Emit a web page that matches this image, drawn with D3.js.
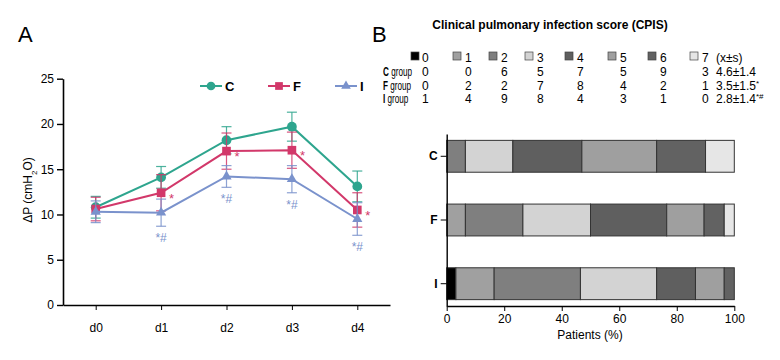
<!DOCTYPE html>
<html>
<head>
<meta charset="utf-8">
<script src="https://cdn.jsdelivr.net/npm/d3@7"></script>
<style>
  body { margin: 0; background: #fff; }
  svg { font-family: "Liberation Sans", Arial, sans-serif; }
</style>
</head>
<body>
<div id="chart"></div>
<script>
// Panel A data
const days = ["d0", "d1", "d2", "d3", "d4"];
const groups = ["C", "F", "I"];
const meanC = [10.8, 14.1, 18.2, 19.7, 13.1];
const meanF = [10.6, 12.4, 17.0, 17.1, 10.5];
const meanI = [10.3, 10.2, 14.2, 13.9, 9.5];
const sdC = [1.2, 1.2, 1.5, 1.6, 1.7];
const sdF = [1.3, 2.0, 2.0, 2.0, 1.9];
const sdI = [1.2, 1.5, 1.2, 1.5, 1.8];
const starF = ["", "*", "*", "*", "*"];
const markI = ["", "*#", "*#", "*#", "*#"];
const yTicksA = [0, 5, 10, 15, 20, 25];

// Panel B data
const scores = ["0", "1", "2", "3", "4", "5", "6", "7"];
const tableC = ["0", "0", "6", "5", "7", "5", "9", "3"];
const tableF = ["0", "2", "2", "7", "8", "4", "2", "1"];
const tableI = ["1", "4", "9", "8", "4", "3", "1", "0"];
const meanText = ["4.6±1.4", "3.5±1.5*", "2.8±1.4*#"];
// bar segment percentages by score
const pctC = [0, 0, 6.5, 16.5, 24, 26, 17, 10];
const pctF = [0, 6.5, 20, 23.5, 26.5, 13, 7, 3.5];
const pctI = [3.2, 13.3, 30, 26.5, 13.5, 10, 3.5, 0];
const xTicksB = [0, 20, 40, 60, 80, 100];

const width = 780, height = 360;
const svg = d3.select("#chart").append("svg")
    .attr("width", width).attr("height", height);

// ---------- Panel A ----------
const colors = { C: "#2ea58e", F: "#d2386a", I: "#7a92cc" };
const x = d3.scalePoint().domain(days).range([63, 390]).padding(0.5);
const y = d3.scaleLinear().domain([0, 25]).range([305, 78.7]);

svg.append("text").attr("x", 18).attr("y", 42).text("A")
    .style("font-size", "22px");

svg.append("g").attr("transform", "translate(63,0)")
    .call(d3.axisLeft(y).tickValues(yTicksA).tickSize(6).tickSizeOuter(0))
    .call(g => g.select(".domain").attr("stroke-width", 1.6))
    .call(g => g.selectAll("line").attr("stroke-width", 1.4))
    .call(g => g.selectAll("text").style("font-size", "12px"));

svg.append("g").attr("transform", "translate(0,305)")
    .call(d3.axisBottom(x).tickSize(5).tickSizeOuter(0))
    .call(g => g.select(".domain").attr("stroke-width", 1.6))
    .call(g => g.selectAll("text").style("font-size", "12px").attr("dy", "1.6em"));

svg.append("text")
    .attr("transform", "translate(32,190) rotate(-90)")
    .attr("text-anchor", "middle")
    .style("font-size", "12px")
    .html('ΔP (cmH<tspan baseline-shift="sub" font-size="8px">2</tspan>O)');

const series = [
  { key: "C", mean: meanC, sd: sdC },
  { key: "F", mean: meanF, sd: sdF },
  { key: "I", mean: meanI, sd: sdI }
];

const line = d3.line().x((d, i) => x(days[i])).y(d => y(d));
const symOf = k => k === "C" ? d3.symbolCircle : k === "F" ? d3.symbolSquare : d3.symbolTriangle;

series.forEach(s => {
  const col = colors[s.key];
  const g = svg.append("g");
  // error bars
  s.mean.forEach((m, i) => {
    const cx = x(days[i]);
    g.append("line").attr("x1", cx).attr("x2", cx)
      .attr("y1", y(m - s.sd[i])).attr("y2", y(m + s.sd[i]))
      .attr("stroke", col).attr("stroke-width", 1.2).attr("opacity", 0.85);
    [m - s.sd[i], m + s.sd[i]].forEach(v => {
      g.append("line").attr("x1", cx - 5).attr("x2", cx + 5)
        .attr("y1", y(v)).attr("y2", y(v))
        .attr("stroke", col).attr("stroke-width", 1.2).attr("opacity", 0.85);
    });
  });
  g.append("path").datum(s.mean).attr("d", line)
    .attr("fill", "none").attr("stroke", col).attr("stroke-width", 2);
  g.selectAll("path.pt").data(s.mean).enter().append("path")
    .attr("class", "pt")
    .attr("d", d3.symbol().type(symOf(s.key)).size(s.key === "I" ? 45 : 75))
    .attr("transform", (d, i) => `translate(${x(days[i])},${y(d)})`)
    .attr("fill", col);
});

// significance marks
svg.selectAll("text.starF").data(meanF).enter().append("text")
  .attr("class", "starF")
  .attr("x", (d, i) => x(days[i]) + 8)
  .attr("y", (d, i) => y(d) + 10)
  .style("font-size", "13px").attr("fill", colors.F)
  .text((d, i) => starF[i]);

svg.selectAll("text.markI").data(meanI).enter().append("text")
  .attr("class", "markI")
  .attr("x", (d, i) => x(days[i]))
  .attr("y", (d, i) => y(d - sdI[i]) + 16)
  .attr("text-anchor", "middle")
  .style("font-size", "12px").attr("fill", colors.I)
  .text((d, i) => markI[i]);

// legend A
const legA = [{ k: "C", x: 200 }, { k: "F", x: 268 }, { k: "I", x: 335 }];
legA.forEach(l => {
  const col = colors[l.k];
  svg.append("line").attr("x1", l.x).attr("x2", l.x + 22)
    .attr("y1", 86).attr("y2", 86).attr("stroke", col).attr("stroke-width", 2);
  svg.append("path").attr("d", d3.symbol().type(symOf(l.k)).size(l.k === "I" ? 40 : 60))
    .attr("transform", `translate(${l.x + 11},86)`).attr("fill", col);
  svg.append("text").attr("x", l.x + 25).attr("y", 90.5)
    .style("font-size", "13px").style("font-weight", "bold").text(l.k);
});

// ---------- Panel B ----------
const fills = ["#000000", "#a0a0a0", "#7f7f7f", "#d3d3d3", "#5f5f5f", "#9f9f9f", "#626262", "#e6e6e6"];

svg.append("text").attr("x", 372).attr("y", 42).text("B")
    .style("font-size", "22px");

svg.append("text").attr("x", 550).attr("y", 29).attr("text-anchor", "middle")
    .style("font-size", "12px").style("font-weight", "bold")
    .text("Clinical pulmonary infection score (CPIS)");

const legSq = [411, 453, 489, 525, 565, 608, 648, 690];
const colX = [422, 465, 501, 537, 577, 620, 660, 702];
scores.forEach((s, i) => {
  svg.append("rect").attr("x", legSq[i]).attr("y", 52).attr("width", 8).attr("height", 8)
    .attr("fill", fills[i]).attr("stroke", "#444").attr("stroke-width", 0.7);
  svg.append("text").attr("x", colX[i]).attr("y", 61.5)
    .style("font-size", "12px").text(s);
});
svg.append("text").attr("x", 716).attr("y", 61.5).style("font-size", "12px").text("(x±s)");

const tableRows = [tableC, tableF, tableI];
const rowY = [75.5, 89.5, 103];
groups.forEach((gname, r) => {
  // narrow row label, squeezed horizontally like the condensed original
  const t = svg.append("text")
    .attr("transform", `translate(383,${rowY[r]}) scale(0.68,1)`)
    .style("font-size", "12px");
  t.append("tspan").style("font-weight", "bold").text(gname);
  t.append("tspan").text(" group");
  tableRows[r].forEach((v, i) => {
    svg.append("text").attr("x", colX[i]).attr("y", rowY[r]).style("font-size", "12px").text(v);
  });
  svg.append("text").attr("x", 716).attr("y", rowY[r]).style("font-size", "12px")
    .text(meanText[r].replace(/\*.*$/, ""))
    .append("tspan").attr("baseline-shift", "super").style("font-size", "8px")
    .text((meanText[r].match(/\*.*$/) || [""])[0]);
});

const xb = d3.scaleLinear().domain([0, 100]).range([446.7, 734.3]);
const yb = d3.scaleBand().domain(groups).range([134, 306]).paddingInner(0.5).paddingOuter(0.1);

const pcts = { C: pctC, F: pctF, I: pctI };
groups.forEach(gname => {
  let acc = 0;
  const segs = pcts[gname].map((p, i) => {
    const s = { score: i, x0: acc, x1: acc + p };
    acc += p;
    return s;
  }).filter(s => s.x1 > s.x0);
  svg.selectAll(null).data(segs).enter().append("rect")
    .attr("x", d => xb(d.x0)).attr("width", d => xb(d.x1) - xb(d.x0))
    .attr("y", yb(gname)).attr("height", yb.bandwidth())
    .attr("fill", d => fills[d.score]).attr("stroke", "#333").attr("stroke-width", 1);
});

svg.append("g").attr("transform", "translate(446.7,0)")
  .call(d3.axisLeft(yb).tickSize(6).tickSizeOuter(0))
  .call(g => g.select(".domain").attr("stroke-width", 1.4))
  .call(g => g.selectAll("text").style("font-size", "12px").style("font-weight", "bold"));

svg.append("g").attr("transform", "translate(0,306)")
  .call(d3.axisBottom(xb).tickValues(xTicksB).tickSize(5).tickSizeOuter(0))
  .call(g => g.select(".domain").attr("stroke-width", 1.4))
  .call(g => g.selectAll("text").style("font-size", "12px"));

svg.append("text").attr("x", 590).attr("y", 339).attr("text-anchor", "middle")
  .style("font-size", "12px").text("Patients (%)");
</script>
</body>
</html>
